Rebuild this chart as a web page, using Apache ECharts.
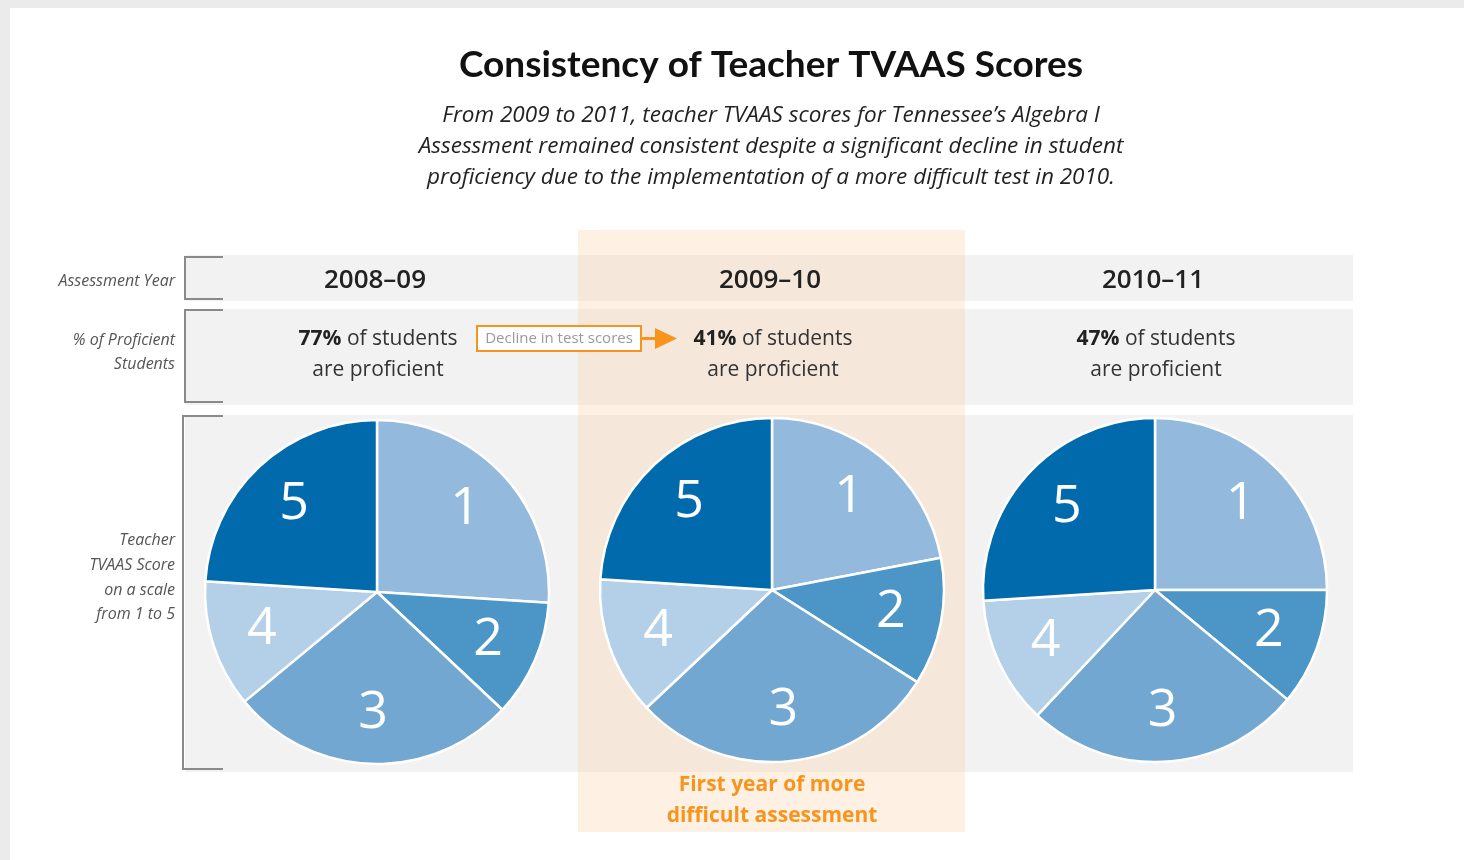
<!DOCTYPE html>
<html><head><meta charset="utf-8">
<script src="https://cdn.jsdelivr.net/npm/echarts@6/dist/echarts.min.js"></script>
<style>html,body{margin:0;padding:0;background:#ebebeb;}#c{width:1464px;height:860px;}</style>
</head><body><div id="c"></div>
<script>
// ---- data ----
const years = ['2008–09', '2009–10', '2010–11'];
const proficientPct = [77, 41, 47];
const scoreNames = ['1', '2', '3', '4', '5'];
const pie2009 = [26, 11, 27, 12, 24];
const pie2010 = [22, 12, 29, 13, 24];
const pie2011 = [25, 11, 26, 12, 26];
const pieValues = [pie2009, pie2010, pie2011];
const rowLabels = [['Assessment Year'], ['% of Proficient', 'Students'], ['Teacher', 'TVAAS Score', 'on a scale', 'from 1 to 5']];

// ---- style / layout ----
const sliceColors = ['#93b9dc', '#4b96c6', '#72a7d1', '#b4cfe8', '#006aac'];
const colX = [377, 772, 1155];
const pieCY = [592, 590, 590];
const R = 172;
const FONT = 'Lato, "Open Sans", sans-serif';
const OS = '"Open Sans", sans-serif';

const chart = echarts.init(document.getElementById('c'));
const series = [];
pieValues.forEach((vals, i) => {
  const data = vals.map((v, k) => ({ name: scoreNames[k], value: v, itemStyle: { color: sliceColors[k] } }));
  series.push({
    type: 'pie', center: [colX[i], pieCY[i]], radius: [0, R], startAngle: 90, clockwise: true,
    silent: true, z: 4, label: { show: false }, labelLine: { show: false },
    itemStyle: { borderColor: '#ffffff', borderWidth: 2.5 },
    data: data
  });
  series.push({
    type: 'pie', center: [colX[i], pieCY[i]], radius: [0, 236], startAngle: 90, clockwise: true,
    silent: true, z: 5, labelLine: { show: false },
    itemStyle: { color: 'rgba(0,0,0,0)', borderWidth: 0 },
    label: { show: true, position: 'inside', formatter: '{b}', color: '#ffffff', fontSize: 52, fontFamily: OS, fontWeight: 400 },
    data: vals.map((v, k) => ({ name: scoreNames[k], value: v }))
  });
});

const g = [];
// white page
g.push({ type: 'rect', shape: { x: 10, y: 8, width: 1454, height: 852 }, style: { fill: '#ffffff' }, z: 0 });
// bands
[[255, 46], [309, 96], [415, 357]].forEach(b => {
  g.push({ type: 'rect', shape: { x: 185, y: b[0], width: 1168, height: b[1] }, style: { fill: '#f2f2f2' }, z: 0 });
});
// highlight column
g.push({ type: 'rect', shape: { x: 578, y: 230, width: 387, height: 602 }, style: { fill: '#fbd3a9', opacity: 0.32 }, z: 1 });
// brackets
[[257, 299, 185], [310, 402, 185], [416, 769, 183]].forEach(b => {
  g.push({ type: 'polyline', shape: { points: [[223, b[0]], [b[2], b[0]], [b[2], b[1]], [223, b[1]]] }, style: { stroke: '#8a8a8a', lineWidth: 2, fill: null }, z: 2 });
});
// row labels
const rowLabelY = [[281], [340, 364], [540, 565, 590, 614]];
rowLabels.forEach((lines, r) => {
  lines.forEach((t, j) => {
    g.push({ type: 'text', x: 175, y: rowLabelY[r][j], style: { text: t, fill: '#555555', font: 'italic 16px ' + OS, textAlign: 'right', textVerticalAlign: 'middle' }, z: 3 });
  });
});
// year headers and proficiency text
years.forEach((y, i) => {
  g.push({ type: 'text', x: colX[i] - 2, y: 281, style: { text: y, fill: '#222222', font: '600 26px ' + OS, textAlign: 'center', textVerticalAlign: 'middle' }, z: 3 });
  g.push({ type: 'text', x: colX[i] + 1, y: 355, style: {
    text: '{b|' + proficientPct[i] + '%} of students\nare proficient',
    textAlign: 'center', textVerticalAlign: 'middle', lineHeight: 31,
    rich: { b: { font: 'bold 21px ' + OS, fill: '#222222', lineHeight: 31 } },
    font: '21px ' + OS, fill: '#333333'
  }, z: 3 });
});
// decline box + arrow
g.push({ type: 'rect', shape: { x: 477, y: 326, width: 164, height: 25 }, style: { fill: '#ffffff', stroke: '#f7941d', lineWidth: 2 }, z: 3 });
g.push({ type: 'text', x: 559, y: 339, style: { text: 'Decline in test scores', fill: '#9a9a9a', font: '15px ' + OS, textAlign: 'center', textVerticalAlign: 'middle' }, z: 4 });
g.push({ type: 'line', shape: { x1: 641, y1: 338.5, x2: 660, y2: 338.5 }, style: { stroke: '#f7941d', lineWidth: 3 }, z: 3 });
g.push({ type: 'polygon', shape: { points: [[655, 328], [677, 338.5], [655, 349]] }, style: { fill: '#f7941d' }, z: 3 });
// bottom note
g.push({ type: 'text', x: 772, y: 801, style: { text: 'First year of more\ndifficult assessment', fill: '#f7941d', font: 'bold 21px ' + OS, textAlign: 'center', textVerticalAlign: 'middle', lineHeight: 31 }, z: 3 });

chart.setOption({
  backgroundColor: '#ebebeb',
  animation: false,
  title: {
    text: 'Consistency of Teacher TVAAS Scores',
    subtext: 'From 2009 to 2011, teacher TVAAS scores for Tennessee\u2019s Algebra I\nAssessment remained consistent despite a significant decline in student\nproficiency due to the implementation of a more difficult test in 2010.',
    left: 766, top: 42, textAlign: 'center', itemGap: 16,
    textStyle: { fontFamily: FONT, fontWeight: 'bold', fontSize: 37, color: '#111111' },
    subtextStyle: { fontFamily: OS, fontStyle: 'italic', fontSize: 22.5, color: '#222222', lineHeight: 31 },
    z: 6
  },
  graphic: { elements: g },
  series: series
});
</script></body></html>
